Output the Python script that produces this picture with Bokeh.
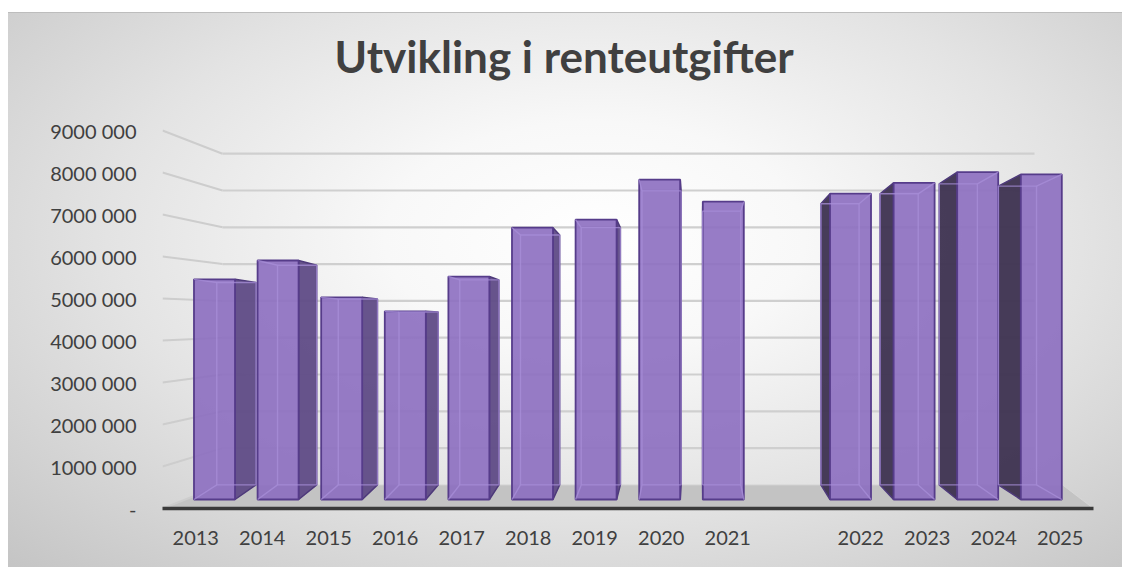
from bokeh.plotting import figure
from bokeh.models import Range1d, FixedTicker
from bokeh.embed import file_html
from bokeh.resources import INLINE

# ---------------- data ----------------
title_text = "Utvikling i renteutgifter"
years = ["2013", "2014", "2015", "2016", "2017", "2018", "2019",
         "2020", "2021", "2022", "2023", "2024", "2025"]
values = [5500000, 5970000, 5050000, 4700000, 5570000, 6790000, 6990000,
          7990000, 7440000, 7640000, 7910000, 8180000, 8120000]
blank_slot = ""
categories = years[:9] + [blank_slot] + years[9:]
y_ticks = [0, 1000000, 2000000, 3000000, 4000000, 5000000,
           6000000, 7000000, 8000000, 9000000]
y_tick_labels = ["-", "1000 000", "2000 000", "3000 000", "4000 000",
                 "5000 000", "6000 000", "7000 000", "8000 000", "9000 000"]

# ---------------- geometry (page pixels) ----------------
PAGE = 0
W, H = 1122, 567
FR_L, FR_R, FR_T, FR_B = 162, 1093, 95, 508
FRONT_PPM = 42.0          # px per million on the front plane
BAR_BASE, BAR_PPM = 499.0, 40.03
WALL_BASE, WALL_PPM = 484.4, 36.8
WALL_L, WALL_R, FLOOR_BR = 222, 1034, 1062
SLOT0_X, SLOT_W = 214.0, 63.6
BAR_W = 0.645
VP_X = 700.0
G_LEFT, G_RIGHT = 0.955, 0.93
M = 1e6

n_slots = len(categories)
p = figure(width=W, height=H, output_backend="svg", toolbar_location=None,
           x_range=Range1d(-0.5, n_slots - 0.5),
           y_range=Range1d(0, (FR_B - FR_T) / FRONT_PPM * M),
           min_border_left=FR_L - PAGE, min_border_right=PAGE + W - FR_R,
           min_border_top=FR_T - PAGE, min_border_bottom=PAGE + H - FR_B)
p.styles = {"background":
            "linear-gradient(#bdbdbd,#bdbdbd) 8px 12px/100% 1px no-repeat, "
            "linear-gradient(#ffffff,#ffffff) 0 0/100% 12px no-repeat, "
            "linear-gradient(#ffffff,#ffffff) 0 0/8px 100% no-repeat, "
            "radial-gradient(ellipse farthest-corner at 53% 42%, "
            "#ffffff 0%, #f8f8f8 25%, #e3e3e3 58%, #c4c4c4 100%)"}
p.border_fill_alpha = 0
p.background_fill_alpha = 0
p.outline_line_color = None
p.grid.visible = False

# extra ranges: bar plane, pixel plane
p.extra_x_ranges = {
    "bx": Range1d(-(SLOT0_X - FR_L) / SLOT_W, (FR_R - SLOT0_X) / SLOT_W),
    "px": Range1d(FR_L, FR_R),
}
p.extra_y_ranges = {
    "by": Range1d(-(FR_B - BAR_BASE) / BAR_PPM * M, (BAR_BASE - FR_T) / BAR_PPM * M),
    "py": Range1d(FR_B, FR_T),
}

def front_y(v):
    return FR_B - FRONT_PPM * v / M

def wall_y(v):
    return WALL_BASE - WALL_PPM * v / M

VPX_U = (VP_X - SLOT0_X) / SLOT_W

def back_x(u):
    g = G_LEFT if u < VPX_U else G_RIGHT
    return VPX_U + (u - VPX_U) * g

def back_by(v):
    return ((BAR_BASE - WALL_BASE) + WALL_PPM * v / M) / BAR_PPM * M

# ---------------- floor & walls ----------------
p.patch([FR_L, FR_R, FLOOR_BR, WALL_L], [FR_B, FR_B, WALL_BASE, WALL_BASE],
        x_range_name="px", y_range_name="py",
        fill_color="#c3c3c3", line_color="#d6d6d6", line_width=1)

p.segment(x0=[WALL_L] * (len(y_ticks) - 1), y0=[wall_y(v) for v in y_ticks[1:]],
          x1=[WALL_R] * (len(y_ticks) - 1), y1=[wall_y(v) for v in y_ticks[1:]],
          x_range_name="px", y_range_name="py",
          line_color="#cfcfcf", line_width=2.2)
p.segment(x0=[FR_L] * len(y_ticks), y0=[front_y(v) for v in y_ticks],
          x1=[WALL_L] * len(y_ticks), y1=[wall_y(v) for v in y_ticks],
          x_range_name="px", y_range_name="py",
          line_color="#cdcdcd", line_width=2)

# ---------------- bars ----------------
hw = BAR_W / 2
slots = [categories.index(y) for y in years]
side_l_xs, side_l_ys, side_r_xs, side_r_ys = [], [], [], []
inner_xs, inner_ys = [], []
for s, v in zip(slots, values):
    if s < VPX_U:
        e = s + hw
        side_l_xs.append([e, e, back_x(e), back_x(e)])
        side_l_ys.append([0, v, back_by(v), back_by(0)])
        o = s - hw
    else:
        e = s - hw
        side_r_xs.append([back_x(e), back_x(e), e, e])
        side_r_ys.append([back_by(0), back_by(v), v, 0])
        o = s + hw
    bl, br = back_x(s - hw), back_x(s + hw)
    inner_xs.append([bl, br, br, bl, bl])
    inner_ys.append([back_by(0), back_by(0), back_by(v), back_by(v), back_by(0)])
    inner_xs.append([o, back_x(o)])
    inner_ys.append([0, back_by(0)])
    inner_xs.append([o, back_x(o)])
    inner_ys.append([v, back_by(v)])

p.patches(side_l_xs, side_l_ys, x_range_name="bx", y_range_name="by",
          fill_color="#5f4b86", fill_alpha=0.95,
          line_color="#4e3a7a", line_width=1.5)
p.patches(side_r_xs, side_r_ys, x_range_name="bx", y_range_name="by",
          fill_color="#3d3250", fill_alpha=0.95,
          line_color="#4e3a7a", line_width=1.5)
p.quad(left=[s - hw for s in slots], right=[s + hw for s in slots],
       bottom=[0] * len(slots), top=values,
       x_range_name="bx", y_range_name="by",
       fill_color="#8c6ec0", fill_alpha=0.9,
       line_color="#563c8a", line_width=1.8)
p.multi_line(inner_xs, inner_ys, x_range_name="bx", y_range_name="by",
             line_color="#a88fd8", line_alpha=0.75, line_width=1.4)

# ---------------- axes ----------------
p.yaxis.ticker = FixedTicker(ticks=y_ticks)
p.yaxis.major_label_overrides = {t: lab for t, lab in zip(y_ticks, y_tick_labels)}
p.yaxis.axis_line_color = None
p.yaxis.major_tick_line_color = None
p.yaxis.minor_tick_line_color = None
p.yaxis.major_label_standoff = 20
p.yaxis.major_label_text_font = "Lato"
p.yaxis.major_label_text_font_size = "20px"
p.yaxis.major_label_text_color = "#404040"

p.xaxis.ticker = FixedTicker(ticks=slots)
p.xaxis.major_label_overrides = {s: y for s, y in zip(slots, years)}
p.xaxis.axis_line_color = "#3a3a3a"
p.xaxis.axis_line_width = 3.5
p.xaxis.major_tick_line_color = None
p.xaxis.minor_tick_line_color = None
p.xaxis.major_label_standoff = 16
p.xaxis.major_label_text_font = "Lato"
p.xaxis.major_label_text_font_size = "20px"
p.xaxis.major_label_text_color = "#404040"

p.title.text = title_text
p.title.text_font = "Lato"
p.title.text_font_style = "bold"
p.title.text_font_size = "44px"
p.title.text_color = "#404040"
p.title.align = "left"
p.title.offset = 334 - FR_L
p.title.standoff = 27

open("out.html", "w").write(file_html(p, INLINE))
